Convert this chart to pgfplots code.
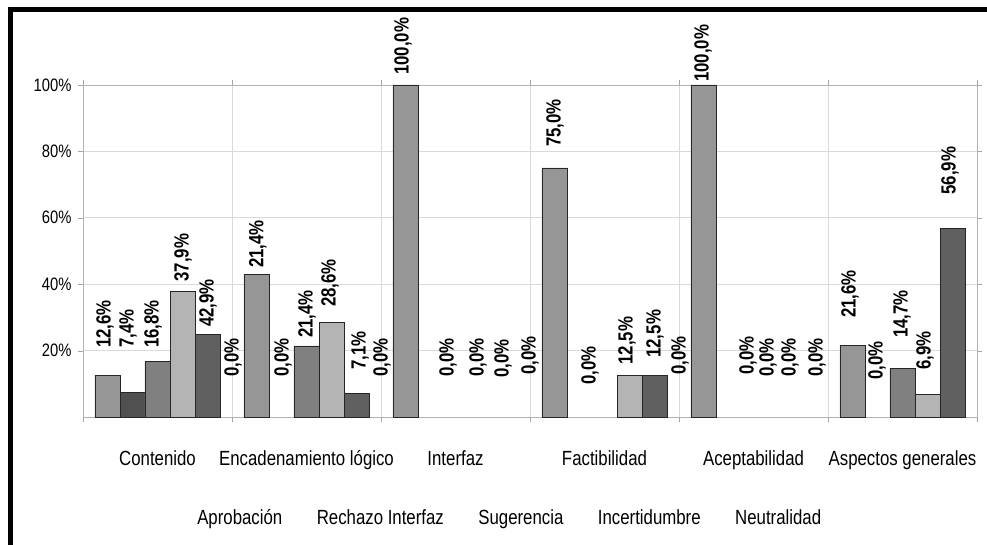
\documentclass[border=0pt]{standalone}
\usepackage{pgfplots}
\pgfplotsset{compat=1.18}
\usepackage{fontspec}
\setmainfont{Liberation Sans}[FakeStretch=0.82]
\definecolor{cA}{HTML}{969696}
\definecolor{cB}{HTML}{505050}
\definecolor{cC}{HTML}{808080}
\definecolor{cD}{HTML}{B4B4B4}
\definecolor{cE}{HTML}{606060}
\begin{document}
\begin{tikzpicture}[x=1pt,y=1pt]
\useasboundingbox (0,0) rectangle (987,544);
\fill[white] (0,0) rectangle (987,544);
\begin{axis}[
  at={(83pt,127pt)}, anchor=south west,
  scale only axis, width=894pt, height=332pt,
  xmin=-0.5, xmax=5.5, ymin=0, ymax=100,
  clip=false,
  axis line style={black!30},
  xtick={-0.5,0.5,...,5.5}, xticklabels={},
  extra x ticks={0,1,2,3,4,5},
  extra x tick labels={Contenido,Encadenamiento lógico,Interfaz,Factibilidad,Aceptabilidad,Aspectos generales},
  extra x tick style={major tick length=0pt, grid=none,
     tick label style={font=\fontsize{20.5}{24}\selectfont, yshift=-30pt}},
  ytick={20,40,60,80,100}, yticklabels={20\%,40\%,60\%,80\%,100\%},
  yticklabel style={font=\fontsize{18}{21}\selectfont, xshift=-3pt},
  tick align=outside, major tick length=5pt,
  tick style={black!35},
  xmajorgrids, ymajorgrids,
  grid style={black!15, line width=0.8pt},
  legend columns=5,
  legend style={draw=none, fill=none, at={(axis description cs:0.122,-0.304)}, anchor=west,
    font=\fontsize{20.5}{24}\selectfont,
    /tikz/every even column/.append style={column sep=30.5pt}},
]
\addplot[ybar, bar width=0.168, bar shift=-0.336, fill=cA, draw=black!85, line width=0.8pt, forget plot]
  coordinates {(0,12.6) (1,42.9) (2,100) (3,75) (4,100) (5,21.6)};
\addplot[ybar, bar width=0.168, bar shift=-0.168, fill=cB, draw=black!85, line width=0.8pt, forget plot]
  coordinates {(0,7.4)};
\addplot[ybar, bar width=0.168, bar shift=0, fill=cC, draw=black!85, line width=0.8pt, forget plot]
  coordinates {(0,16.8) (1,21.4) (5,14.7)};
\addplot[ybar, bar width=0.168, bar shift=0.168, fill=cD, draw=black!85, line width=0.8pt, forget plot]
  coordinates {(0,37.9) (1,28.6) (3,12.5) (5,6.9)};
\addplot[ybar, bar width=0.168, bar shift=0.336, fill=cE, draw=black!85, line width=0.8pt, forget plot]
  coordinates {(0,25.0) (1,7.1) (3,12.5) (5,56.9)};
% value labels
\addplot[draw=none, mark=none, forget plot,
  point meta=explicit symbolic,
  nodes near coords={\pgfplotspointmeta\%},
  every node near coord/.style={rotate=90, anchor=west, inner sep=0pt,
     font=\bfseries\fontsize{20.5}{24}\selectfont}]
  table[meta=lab] {
x y lab
-0.352 20.8 12,6
-0.198 20.8 7,4
-0.030 20.8 16,8
0.171 40.7 37,9
0.339 27.1 42,9
0.507 12.0 0,0
0.674 44.9 21,4
0.842 12.0 0,0
1.003 23.8 21,4
1.158 33.1 28,6
1.359 14.2 7,1
1.507 12.0 0,0
1.648 103.0 100,0
1.950 12.0 0,0
2.151 12.0 0,0
2.319 11.7 0,0
2.500 12.7 0,0
2.668 81.3 75,0
2.903 9.6 0,0
3.151 15.7 12,5
3.339 17.8 12,5
3.507 12.7 0,0
3.661 100.9 100,0
3.963 12.7 0,0
4.097 12.0 0,0
4.245 12.0 0,0
4.426 12.0 0,0
4.648 29.8 21,6
4.829 11.1 0,0
4.997 23.8 14,7
5.151 14.2 6,9
5.319 66.9 56,9
};
\addlegendimage{empty legend}\addlegendentry{Aprobación}
\addlegendimage{empty legend}\addlegendentry{Rechazo Interfaz}
\addlegendimage{empty legend}\addlegendentry{Sugerencia}
\addlegendimage{empty legend}\addlegendentry{Incertidumbre}
\addlegendimage{empty legend}\addlegendentry{Neutralidad}
\end{axis}
\draw[line width=4.5pt] (10.5,-10) -- (10.5,534.5) -- (1000,534.5);
\end{tikzpicture}
\end{document}
